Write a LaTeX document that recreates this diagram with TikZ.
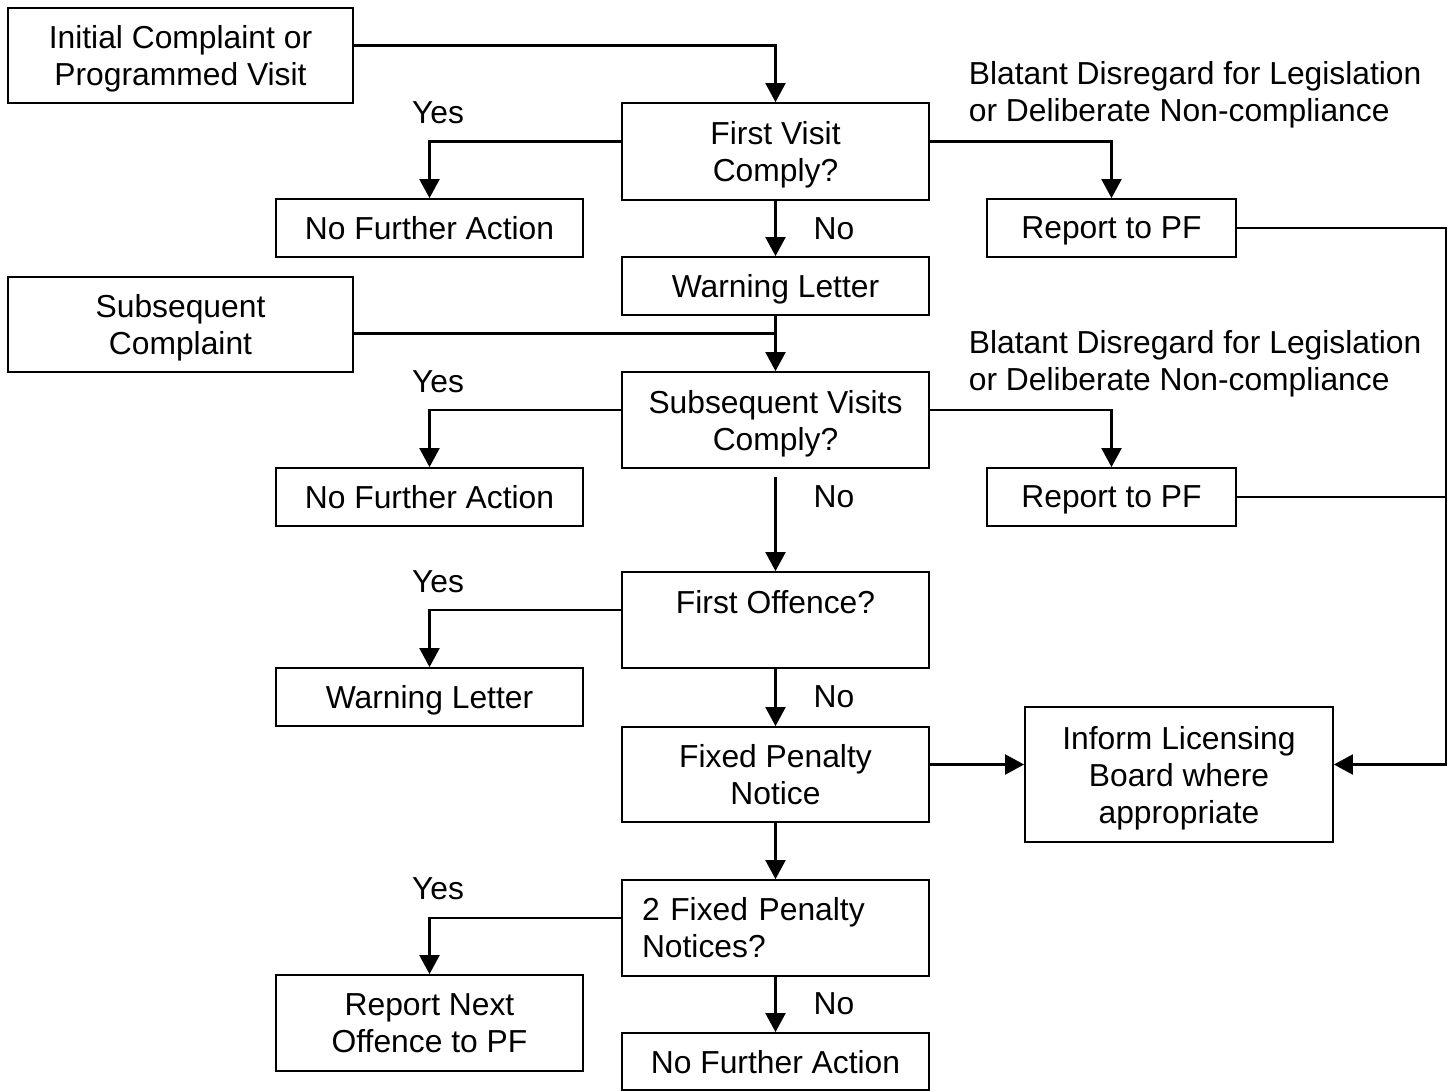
\documentclass[tikz,border=0pt]{standalone}
\usepackage{fontspec}
\setmainfont{Liberation Sans}
\usetikzlibrary{arrows.meta}
\newcommand\myfs{\fontsize{31.8pt}{37pt}\selectfont}
\begin{document}
\begin{tikzpicture}[x=1pt,y=-1pt, line width=1.8pt,
  >={Triangle[length=19pt,width=20pt]},
  every node/.style={font=\myfs},
  boxbase/.style={draw, line width=1.8pt, align=center, inner sep=0pt},
  box/.style={boxbase, text depth=0pt},
  wbox/.style={box, minimum width=307pt},
  lbl/.style={inner sep=0pt},
  conn/.style={line width=2.1pt}]
\useasboundingbox (0,0) rectangle (1456,1090);

\node[box, minimum width=345pt, minimum height=95pt] (init) at (180.5,55.5) {Initial Complaint or\\Programmed Visit};
\node[wbox, minimum height=97pt] (fv) at (775.5,151.5) {First Visit\\Comply?};
\node[wbox, minimum height=58pt] (nfa1) at (429.5,228) {No Further Action};
\node[box, minimum width=249pt, minimum height=58pt] (pf1) at (1111.5,228) {Report to PF};
\node[wbox, minimum height=58pt] (wl1) at (775.5,286) {Warning Letter};
\node[box, minimum width=345pt, minimum height=95pt] (subc) at (180.5,324.5) {Subsequent\\Complaint};
\node[wbox, minimum height=96pt] (sv) at (775.5,420) {Subsequent Visits\\Comply?};
\node[wbox, minimum height=58pt] (nfa2) at (429.5,497) {No Further Action};
\node[box, minimum width=249pt, minimum height=58pt] (pf2) at (1111.5,497) {Report to PF};
\node[wbox, minimum height=96pt] (fo) at (775.5,620) {First Offence?\\\mbox{}};
\node[wbox, minimum height=58pt] (wl2) at (429.5,697) {Warning Letter};
\node[wbox, minimum height=95pt] (fpn) at (775.5,774.5) {Fixed Penalty\\Notice};
\node[box, minimum width=308pt, minimum height=135pt] (ilb) at (1179,774.5) {Inform Licensing\\Board where\\appropriate};
\node[boxbase, minimum width=307pt, minimum height=96pt, text width=267pt, align=left] (fpn2) at (775.5,928) {2 Fixed Penalty\\Notices?};
\node[wbox, minimum height=96pt] (rn) at (429.5,1023) {Report Next\\Offence to PF};
\node[wbox, minimum height=57pt] (nfa3) at (775.5,1061.5) {No Further Action};

\node[lbl] (y1) at (438,113) {Yes};
\node[lbl] (y2) at (438,382) {Yes};
\node[lbl] (y3) at (438,582) {Yes};
\node[lbl] (y4) at (438,889) {Yes};
\node[lbl] (n1) at (834,229) {No};
\node[lbl] (n2) at (834,497) {No};
\node[lbl] (n3) at (834,697) {No};
\node[lbl] (n4) at (834,1004) {No};
\node[lbl, anchor=west, align=left] (b1) at (968,95) {Blatant Disregard for Legislation\\or Deliberate Non-compliance};
\node[lbl, anchor=west, align=left] (b2) at (968,364) {Blatant Disregard for Legislation\\or Deliberate Non-compliance};

\draw[conn,->] ([yshift=10pt]init.east) -| (fv.north);
\draw[conn,->] ([yshift=10pt]fv.west) -| (nfa1.north);
\draw[conn,->] ([yshift=10pt]fv.east) -| (pf1.north);
\draw[conn,->] (fv.south) -- (wl1.north);
\draw[conn,->] (wl1.south) -- (sv.north);
\coordinate (sc) at ([yshift=-9pt]subc.east);
\draw[conn] (sc) -- (sc -| wl1.south);
\draw[conn,->] ([yshift=10pt]sv.west) -| (nfa2.north);
\draw[conn,->] ([yshift=10pt]sv.east) -| (pf2.north);
\draw[conn,->] ([yshift=-8pt]sv.south) -- (fo.north);
\draw[conn,->] ([yshift=10pt]fo.west) -| (wl2.north);
\draw[conn,->] (fo.south) -- (fpn.north);
\draw[conn,->] ([yshift=10pt]fpn.east) -- ([yshift=10pt]ilb.west);
\coordinate (rr) at (1446,0);
\coordinate (ilbin) at ([yshift=10pt]ilb.east);
\coordinate (corner) at (rr |- ilbin);
\draw[conn,->] (pf1.east) -| (corner) -- (ilbin);
\draw[conn] (pf2.east) -- (pf2.east -| rr);
\draw[conn,->] (fpn.south) -- (fpn2.north);
\draw[conn,->] ([yshift=10pt]fpn2.west) -| (rn.north);
\draw[conn,->] (fpn2.south) -- (nfa3.north);
\end{tikzpicture}
\end{document}
